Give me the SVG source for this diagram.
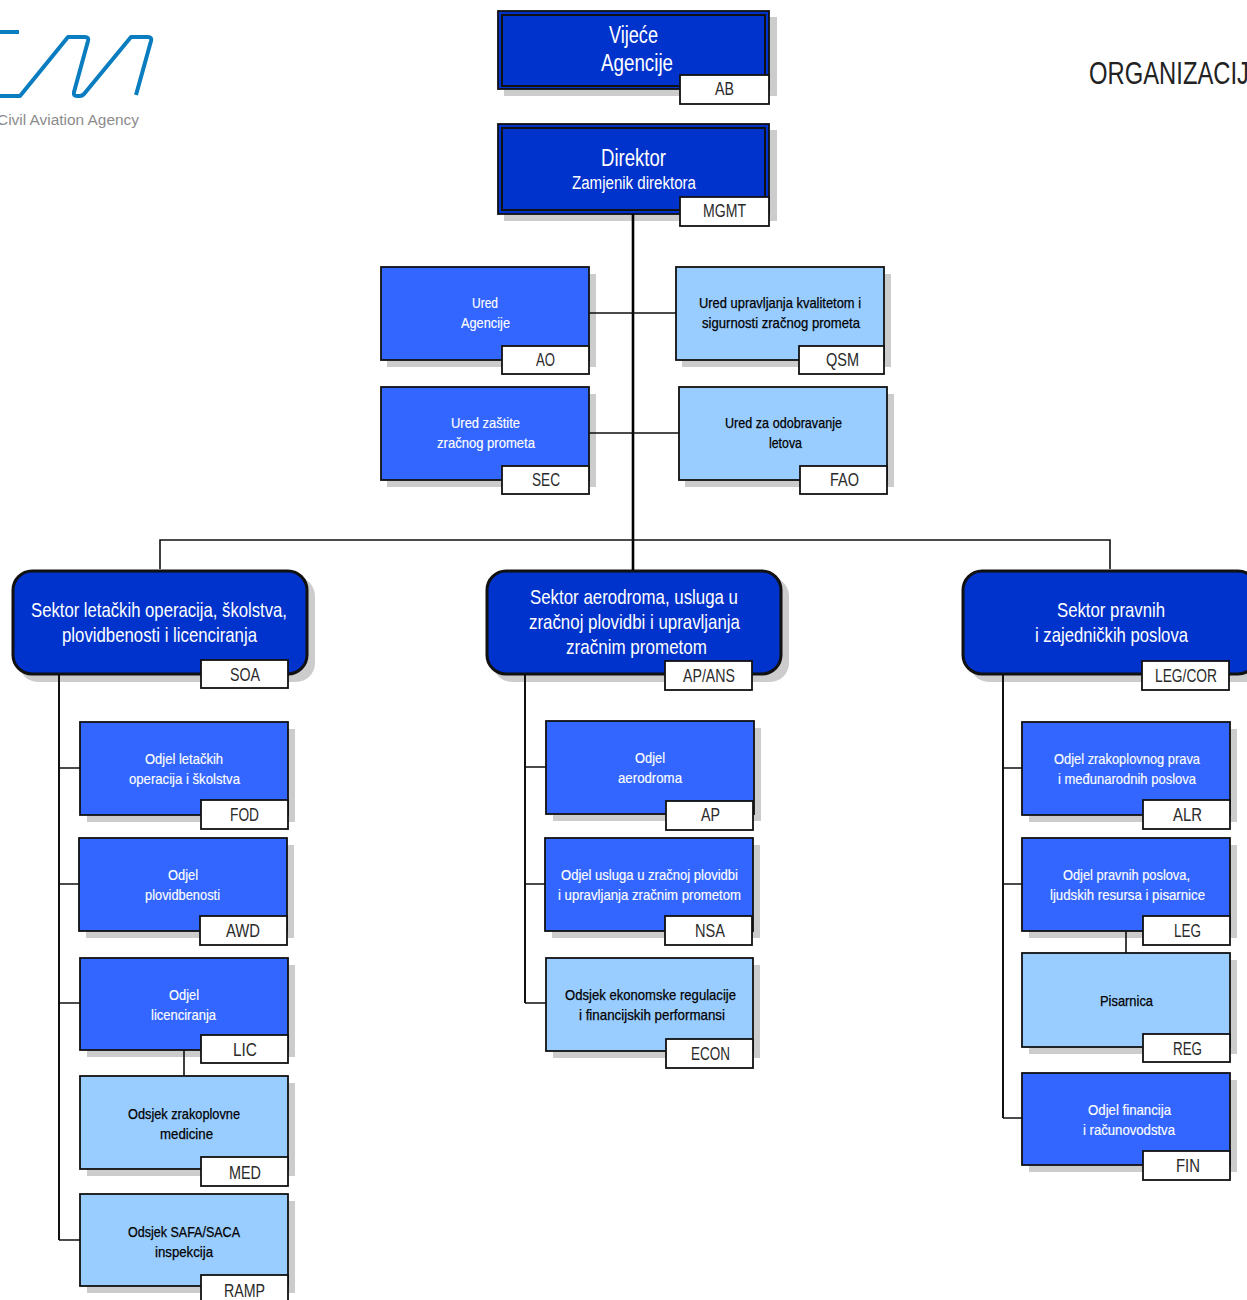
<svg xmlns="http://www.w3.org/2000/svg" width="1247" height="1300" viewBox="0 0 1247 1300">
<style>
text{font-family:"Liberation Sans",Arial,sans-serif}
.sh{fill:#ccc}
.b{stroke:#111;stroke-width:1.8}
.d{fill:#0033cc}
.m{fill:#3366ff}
.l{fill:#99ccff}
.in{fill:none;stroke:#111;stroke-width:2}
.r{stroke:#111;stroke-width:3}
.tag{fill:#fff;stroke:#111;stroke-width:1.8}
.t{font-size:19px;fill:#2a2a2a}
.w{fill:#fff}
.k{fill:#000;stroke:#000;stroke-width:.25}
.s{font-size:15px;transform:translateY(-1px)}
.w.s{stroke:#fff;stroke-width:.15}
.h{font-size:21px}
.c{fill:none;stroke:#111;stroke-width:1.6}
.cb{fill:none;stroke:#000;stroke-width:2.6}
.cm{fill:none;stroke:#111;stroke-width:2}
</style>
<rect width="1247" height="1300" fill="#fff"/>
<g id="logo">
<path d="M0 32H19M0 96H20L68 37H85Q89 37 88 41L74 92Q73 96 77 96H80Q82 96 84 94L131 37H148Q152 37 151 41L136 95" fill="none" stroke="#0a7dc0" stroke-width="4" stroke-linejoin="round"/>
<text x="-3" y="125" font-size="15.5" fill="#8c8c8c" textLength="142" lengthAdjust="spacingAndGlyphs">Civil Aviation Agency</text>
</g>
<text id="title" x="1089" y="84" font-size="31" fill="#222" textLength="160" lengthAdjust="spacingAndGlyphs">ORGANIZACIJ</text>
<g id="AB">
<rect class="sh" x="504" y="17" width="273" height="79"/><rect class="b d" x="498" y="11" width="271" height="78"/><rect class="in" x="502" y="15" width="263" height="71"/>
<text class="w" x="609" y="43" font-size="23" textLength="49" lengthAdjust="spacingAndGlyphs">Vijeće</text>
<text class="w" x="601" y="71" font-size="23" textLength="72" lengthAdjust="spacingAndGlyphs">Agencije</text>
<rect class="tag" x="680" y="75" width="89" height="29"/><text class="t" x="715" y="95" textLength="19" lengthAdjust="spacingAndGlyphs">AB</text>
</g>
<g id="MGMT">
<rect class="sh" x="504" y="130" width="273" height="91"/><rect class="b d" x="498" y="124" width="271" height="90"/><rect class="in" x="502" y="128" width="263" height="82"/>
<text class="w" x="601" y="166" font-size="23" textLength="65" lengthAdjust="spacingAndGlyphs">Direktor</text>
<text class="w" x="572" y="189" font-size="18" textLength="124" lengthAdjust="spacingAndGlyphs">Zamjenik direktora</text>
<rect class="tag" x="680" y="197" width="89" height="29"/><text class="t" x="703" y="217" textLength="43" lengthAdjust="spacingAndGlyphs">MGMT</text>
</g>
<g id="AO">
<rect class="sh" x="387" y="274" width="209" height="93"/><rect class="b m" x="381" y="267" width="208" height="93"/>
<text class="w s" x="472" y="309" textLength="26" lengthAdjust="spacingAndGlyphs">Ured</text>
<text class="w s" x="461" y="329" textLength="49" lengthAdjust="spacingAndGlyphs">Agencije</text>
<rect class="tag" x="502" y="346" width="87" height="28"/><text class="t" x="536" y="366" textLength="19" lengthAdjust="spacingAndGlyphs">AO</text>
</g>
<g id="QSM">
<rect class="sh" x="682" y="274" width="209" height="93"/><rect class="b l" x="676" y="267" width="208" height="93"/>
<text class="k s" x="699" y="309" textLength="162" lengthAdjust="spacingAndGlyphs">Ured upravljanja kvalitetom i</text>
<text class="k s" x="702" y="329" textLength="158" lengthAdjust="spacingAndGlyphs">sigurnosti zračnog prometa</text>
<rect class="tag" x="799" y="346" width="85" height="28"/><text class="t" x="826" y="366" textLength="33" lengthAdjust="spacingAndGlyphs">QSM</text>
</g>
<g id="SEC">
<rect class="sh" x="387" y="394" width="209" height="93"/><rect class="b m" x="381" y="387" width="208" height="93"/>
<text class="w s" x="451" y="429" textLength="69" lengthAdjust="spacingAndGlyphs">Ured zaštite</text>
<text class="w s" x="437" y="449" textLength="98" lengthAdjust="spacingAndGlyphs">zračnog prometa</text>
<rect class="tag" x="502" y="466" width="87" height="28"/><text class="t" x="532" y="486" textLength="28" lengthAdjust="spacingAndGlyphs">SEC</text>
</g>
<g id="FAO">
<rect class="sh" x="685" y="394" width="209" height="93"/><rect class="b l" x="679" y="387" width="208" height="93"/>
<text class="k s" x="725" y="429" textLength="117" lengthAdjust="spacingAndGlyphs">Ured za odobravanje</text>
<text class="k s" x="769" y="449" textLength="33" lengthAdjust="spacingAndGlyphs">letova</text>
<rect class="tag" x="800" y="466" width="87" height="28"/><text class="t" x="830" y="486" textLength="29" lengthAdjust="spacingAndGlyphs">FAO</text>
</g>
<g id="SOA">
<rect class="sh" x="19" y="577" width="296" height="105" rx="19"/><rect class="d r" x="13" y="571" width="294" height="103" rx="19"/>
<text class="w h" x="31" y="617" textLength="256" lengthAdjust="spacingAndGlyphs">Sektor letačkih operacija, školstva,</text>
<text class="w h" x="62" y="642" textLength="195" lengthAdjust="spacingAndGlyphs">plovidbenosti i licenciranja</text>
<rect class="tag" x="201" y="660" width="87" height="28"/><text class="t" x="230" y="681" textLength="30" lengthAdjust="spacingAndGlyphs">SOA</text>
</g>
<g id="AP-ANS">
<rect class="sh" x="493" y="577" width="296" height="105" rx="19"/><rect class="d r" x="487" y="571" width="294" height="103" rx="19"/>
<text class="w h" x="530" y="604" textLength="208" lengthAdjust="spacingAndGlyphs">Sektor aerodroma, usluga u</text>
<text class="w h" x="529" y="629" textLength="211" lengthAdjust="spacingAndGlyphs">zračnoj plovidbi i upravljanja</text>
<text class="w h" x="566" y="654" textLength="141" lengthAdjust="spacingAndGlyphs">zračnim prometom</text>
<rect class="tag" x="665" y="661" width="87" height="29"/><text class="t" x="683" y="682" textLength="52" lengthAdjust="spacingAndGlyphs">AP/ANS</text>
</g>
<g id="LEG-COR">
<rect class="sh" x="970" y="577" width="296" height="105" rx="19"/><rect class="d r" x="963" y="571" width="294" height="103" rx="19"/>
<text class="w h" x="1057" y="617" textLength="108" lengthAdjust="spacingAndGlyphs">Sektor pravnih</text>
<text class="w h" x="1035" y="642" textLength="153" lengthAdjust="spacingAndGlyphs">i zajedničkih poslova</text>
<rect class="tag" x="1142" y="661" width="87" height="29"/><text class="t" x="1155" y="682" textLength="62" lengthAdjust="spacingAndGlyphs">LEG/COR</text>
</g>
<g id="FOD">
<rect class="sh" x="87" y="729" width="208" height="93"/><rect class="b m" x="80" y="722" width="208" height="93"/>
<text class="w s" x="145" y="765" textLength="78" lengthAdjust="spacingAndGlyphs">Odjel letačkih</text>
<text class="w s" x="129" y="785" textLength="111" lengthAdjust="spacingAndGlyphs">operacija i školstva</text>
<rect class="tag" x="201" y="800" width="87" height="29"/><text class="t" x="230" y="821" textLength="29" lengthAdjust="spacingAndGlyphs">FOD</text>
</g>
<g id="AWD">
<rect class="sh" x="86" y="845" width="208" height="93"/><rect class="b m" x="79" y="838" width="208" height="93"/>
<text class="w s" x="168" y="881" textLength="30" lengthAdjust="spacingAndGlyphs">Odjel</text>
<text class="w s" x="145" y="901" textLength="75" lengthAdjust="spacingAndGlyphs">plovidbenosti</text>
<rect class="tag" x="200" y="916" width="87" height="29"/><text class="t" x="226" y="937" textLength="34" lengthAdjust="spacingAndGlyphs">AWD</text>
</g>
<g id="LIC">
<rect class="sh" x="87" y="965" width="208" height="92"/><rect class="b m" x="80" y="958" width="208" height="92"/>
<text class="w s" x="169" y="1001" textLength="30" lengthAdjust="spacingAndGlyphs">Odjel</text>
<text class="w s" x="151" y="1021" textLength="65" lengthAdjust="spacingAndGlyphs">licenciranja</text>
<rect class="tag" x="201" y="1035" width="87" height="28"/><text class="t" x="233" y="1056" textLength="24" lengthAdjust="spacingAndGlyphs">LIC</text>
</g>
<g id="MED">
<rect class="sh" x="87" y="1083" width="208" height="93"/><rect class="b l" x="80" y="1076" width="208" height="93"/>
<text class="k s" x="128" y="1120" textLength="112" lengthAdjust="spacingAndGlyphs">Odsjek zrakoplovne</text>
<text class="k s" x="160" y="1140" textLength="53" lengthAdjust="spacingAndGlyphs">medicine</text>
<rect class="tag" x="201" y="1157" width="87" height="29"/><text class="t" x="229" y="1179" textLength="32" lengthAdjust="spacingAndGlyphs">MED</text>
</g>
<g id="RAMP">
<rect class="sh" x="87" y="1201" width="208" height="92"/><rect class="b l" x="80" y="1194" width="208" height="92"/>
<text class="k s" x="128" y="1238" textLength="112" lengthAdjust="spacingAndGlyphs">Odsjek SAFA/SACA</text>
<text class="k s" x="155" y="1258" textLength="58" lengthAdjust="spacingAndGlyphs">inspekcija</text>
<rect class="tag" x="201" y="1275" width="87" height="29"/><text class="t" x="224" y="1297" textLength="41" lengthAdjust="spacingAndGlyphs">RAMP</text>
</g>
<g id="AP">
<rect class="sh" x="553" y="728" width="208" height="93"/><rect class="b m" x="546" y="721" width="208" height="93"/>
<text class="w s" x="635" y="764" textLength="30" lengthAdjust="spacingAndGlyphs">Odjel</text>
<text class="w s" x="618" y="784" textLength="64" lengthAdjust="spacingAndGlyphs">aerodroma</text>
<rect class="tag" x="666" y="801" width="87" height="29"/><text class="t" x="701" y="821" textLength="19" lengthAdjust="spacingAndGlyphs">AP</text>
</g>
<g id="NSA">
<rect class="sh" x="552" y="845" width="208" height="93"/><rect class="b m" x="545" y="838" width="208" height="93"/>
<text class="w s" x="561" y="881" textLength="177" lengthAdjust="spacingAndGlyphs">Odjel usluga u zračnoj plovidbi</text>
<text class="w s" x="558" y="901" textLength="183" lengthAdjust="spacingAndGlyphs">i upravljanja zračnim prometom</text>
<rect class="tag" x="665" y="916" width="87" height="29"/><text class="t" x="695" y="937" textLength="30" lengthAdjust="spacingAndGlyphs">NSA</text>
</g>
<g id="ECON">
<rect class="sh" x="553" y="965" width="207" height="93"/><rect class="b l" x="546" y="958" width="207" height="93"/>
<text class="k s" x="565" y="1001" textLength="171" lengthAdjust="spacingAndGlyphs">Odsjek ekonomske regulacije</text>
<text class="k s" x="579" y="1021" textLength="146" lengthAdjust="spacingAndGlyphs">i financijskih performansi</text>
<rect class="tag" x="666" y="1039" width="87" height="29"/><text class="t" x="691" y="1060" textLength="39" lengthAdjust="spacingAndGlyphs">ECON</text>
</g>
<g id="ALR">
<rect class="sh" x="1029" y="729" width="208" height="93"/><rect class="b m" x="1022" y="722" width="208" height="93"/>
<text class="w s" x="1054" y="765" textLength="146" lengthAdjust="spacingAndGlyphs">Odjel zrakoplovnog prava</text>
<text class="w s" x="1058" y="785" textLength="138" lengthAdjust="spacingAndGlyphs">i međunarodnih poslova</text>
<rect class="tag" x="1143" y="800" width="87" height="29"/><text class="t" x="1173" y="821" textLength="29" lengthAdjust="spacingAndGlyphs">ALR</text>
</g>
<g id="LEG">
<rect class="sh" x="1029" y="845" width="208" height="93"/><rect class="b m" x="1022" y="838" width="208" height="93"/>
<text class="w s" x="1063" y="881" textLength="127" lengthAdjust="spacingAndGlyphs">Odjel pravnih poslova,</text>
<text class="w s" x="1050" y="901" textLength="155" lengthAdjust="spacingAndGlyphs">ljudskih resursa i pisarnice</text>
<rect class="tag" x="1143" y="916" width="87" height="29"/><text class="t" x="1174" y="937" textLength="27" lengthAdjust="spacingAndGlyphs">LEG</text>
</g>
<g id="REG">
<rect class="sh" x="1029" y="960" width="208" height="94"/><rect class="b l" x="1022" y="953" width="208" height="94"/>
<text class="k s" x="1100" y="1007" textLength="53" lengthAdjust="spacingAndGlyphs">Pisarnica</text>
<rect class="tag" x="1143" y="1034" width="87" height="28"/><text class="t" x="1173" y="1055" textLength="29" lengthAdjust="spacingAndGlyphs">REG</text>
</g>
<g id="FIN">
<rect class="sh" x="1029" y="1080" width="208" height="92"/><rect class="b m" x="1022" y="1073" width="208" height="92"/>
<text class="w s" x="1088" y="1116" textLength="83" lengthAdjust="spacingAndGlyphs">Odjel financija</text>
<text class="w s" x="1083" y="1136" textLength="92" lengthAdjust="spacingAndGlyphs">i računovodstva</text>
<rect class="tag" x="1143" y="1151" width="87" height="29"/><text class="t" x="1176" y="1172" textLength="24" lengthAdjust="spacingAndGlyphs">FIN</text>
</g>
<g id="connectors">
<path class="cb" d="M633 214V570"/>
<path class="c" d="M589 313H676M589 433H679M160 569V540H1110V569"/>
<path class="cm" d="M59 675V1240M525 675V1003M1003 675V1118"/>
<path class="c" d="M59 768H80M59 884H79M59 1003H80M59 1240H80M184 1050V1076M525 767H546M525 884H545M525 1003H546M1003 768H1022M1003 884H1022M1003 1118H1022M1126 931V953"/>
</g>
</svg>
